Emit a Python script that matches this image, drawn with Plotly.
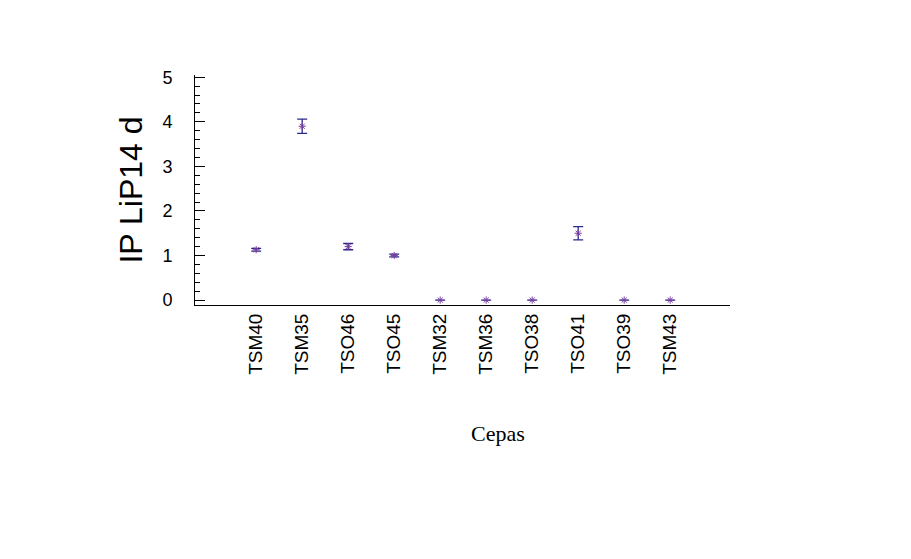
"""IP LiP14 d per strain (cepa), mean with error bars."""

import plotly.graph_objects as go

cepas = ["TSM40", "TSM35", "TSO46", "TSO45", "TSM32",
         "TSM36", "TSO38", "TSO41", "TSO39", "TSM43"]
ip_lip14 = [1.13, 3.90, 1.20, 1.00, 0.0, 0.0, 0.0, 1.50, 0.0, 0.0]
ip_err = [0.03, 0.16, 0.07, 0.03, 0.0, 0.0, 0.0, 0.15, 0.0, 0.0]
y_ticks = [0, 1, 2, 3, 4, 5]

fig = go.Figure()

fig.add_trace(
    go.Scatter(
        x=cepas,
        y=ip_lip14,
        mode="markers",
        marker=dict(
            symbol="asterisk",
            size=6,
            color="#7a3fa0",
            line=dict(color="#7a3fa0", width=1),
        ),
        error_y=dict(
            type="data",
            array=ip_err,
            visible=True,
            color="#2a2a8a",
            thickness=1.3,
            width=5,
        ),
        showlegend=False,
    )
)  # mean values with error bars

# page body has an 8px margin, so the plot area is offset by that
fig.update_layout(
    width=911,
    height=559,
    paper_bgcolor="white",
    plot_bgcolor="white",
    margin=dict(l=187, r=189, t=67, b=262),
    font=dict(family="Liberation Sans, Arial, sans-serif", color="black"),
    xaxis=dict(
        type="category",
        categoryorder="array",
        categoryarray=cepas,
        range=[-1.33, 10.3],
        showline=True,
        linecolor="black",
        linewidth=1,
        ticks="",
        tickangle=-90,
        tickfont=dict(size=19),
        showgrid=False,
        zeroline=False,
    ),
    yaxis=dict(
        range=[-0.11, 5.05],
        tickvals=y_ticks,
        showline=True,
        linecolor="black",
        linewidth=1,
        ticks="inside",
        ticklen=10,
        tickcolor="black",
        minor=dict(dtick=0.2, ticks="inside", ticklen=5, tickcolor="black"),
        tickfont=dict(size=18),
        ticklabelstandoff=18,
        showgrid=False,
        zeroline=False,
        title=dict(text="IP LiP14 d", font=dict(size=32), standoff=10),
    ),
)

fig.add_annotation(
    text="Cepas",
    xref="paper",
    yref="paper",
    x=(498 - 195) / 535,
    y=-(433 - 305) / 230,
    showarrow=False,
    font=dict(family="Liberation Serif, Times New Roman, serif", size=22),
    xanchor="center",
    yanchor="middle",
)

fig.write_html("out.html")
